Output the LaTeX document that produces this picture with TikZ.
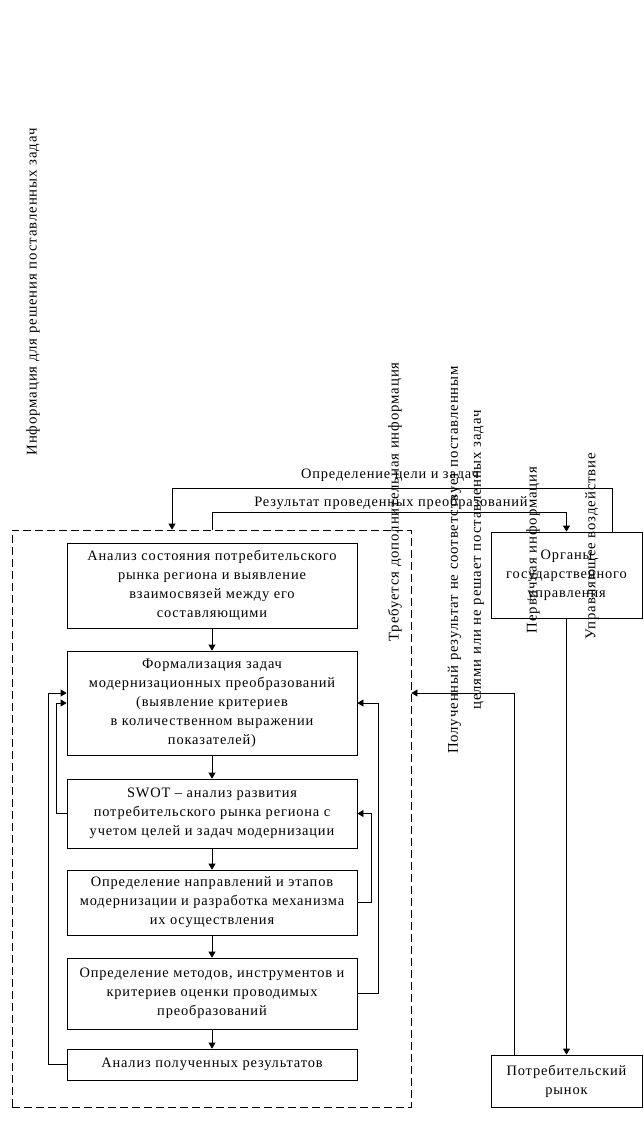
\documentclass[tikz,border=0pt]{standalone}
\usepackage{fontspec}
\setmainfont{Liberation Serif}[LetterSpace=6]
\usetikzlibrary{arrows.meta}
\tikzset{
  box/.style={draw, line width=0.8pt, minimum width=290pt, align=center, inner sep=0pt, font=\fontsize{14.4}{19}\selectfont},
  sbox/.style={draw, line width=0.8pt, minimum width=151pt, align=center, inner sep=0pt, font=\fontsize{14.4}{19}\selectfont},
  lbl/.style={inner sep=0pt, font=\fontsize{14.4}{15}\selectfont},
  rlbl/.style={inner sep=0pt, rotate=90, font=\fontsize{14.8}{15}\selectfont},
  arr/.style={line width=0.8pt, -{Triangle[length=6pt,width=7pt]}},
  ln/.style={line width=0.8pt}
}
\begin{document}
\begin{tikzpicture}[x=1pt,y=-1pt]
\useasboundingbox (0,0) rectangle (643,1127);
% frame
\node[draw, line width=0.8pt, dash pattern=on 8pt off 4pt, minimum width=399pt, minimum height=577pt, inner sep=0pt] (frame) at (211.5,818.5) {};
% main boxes
\node[box, minimum height=85pt] (b1) at (212,585.5) {Анализ состояния потребительского\\рынка региона и выявление\\взаимосвязей между его\\составляющими};
\node[box, minimum height=104pt] (b2) at (212,703) {Формализация задач\\модернизационных преобразований\\(выявление критериев\\в количественном выражении\\показателей)};
\node[box, minimum height=69pt] (b3) at (212,813.5) {SWOT – анализ развития\\потребительского рынка региона с\\учетом целей и задач модернизации};
\node[box, minimum height=65pt] (b4) at (212,902.5) {Определение направлений и этапов\\модернизации и разработка механизма\\их осуществления};
\node[box, minimum height=71pt] (b5) at (212,993.5) {Определение методов, инструментов и\\критериев оценки проводимых\\преобразований};
\node[box, minimum height=31pt] (b6) at (212,1064.5) {Анализ полученных результатов};
% side boxes
\node[sbox, minimum height=86pt] (org) at (566.5,575) {Органы\\государственного\\управления};
\node[sbox, minimum height=52pt] (mkt) at (566.5,1081) {Потребительский\\рынок};
% chain
\draw[arr] (b1) -- (b2);
\draw[arr] (b2) -- (b3);
\draw[arr] (b3) -- (b4);
\draw[arr] (b4) -- (b5);
\draw[arr] (b5) -- (b6);
% left feedback
\draw[arr] (b6.west) -- ++(-18,0) |- ([yshift=10pt]b2.west);
\draw[arr] (b3.west) -- ++(-10,0) |- (b2.west);
% right feedback
\draw[arr] (b4.east) -- ++(14,0) |- (b3.east);
\draw[arr] (b5.east) -- ++(21,0) |- (b2.east);
% top connectors
\coordinate (c1) at (612,488);
\coordinate (c2) at (172,488);
\draw[arr] (org.north -| c1) -- (c1) -- (c2) -- (c2 |- frame.north);
\draw[arr] (b1.north |- frame.north) -- ++(0,-17) -| (org.north);
\node[lbl] (t1) at (390,475) {Определение цели и задач};
\node[lbl] (t2) at (391,503) {Результат проведенных преобразований};
% org to market
\draw[arr] (org.south) -- (org.south |- mkt.north);
% market to frame
\coordinate (c3) at (514,693);
\draw[arr] (c3 |- mkt.north) -- (c3) -- (c3 -| frame.east);
% rotated labels
\node[rlbl] (l1) at (33,292) {Информация для решения поставленных задач};
\node[rlbl] (l2) at (395,502) {Требуется дополнительная информация};
\node[rlbl, align=center, font=\fontsize{14.8}{23}\selectfont] (l3) at (466,560) {Полученный результат не соответствует поставленным\\целями или не решает поставленных задач};
\node[rlbl] (l4) at (533,550) {Первичная информация};
\node[rlbl] (l5) at (592,546) {Управляющее воздействие};
\end{tikzpicture}
\end{document}
